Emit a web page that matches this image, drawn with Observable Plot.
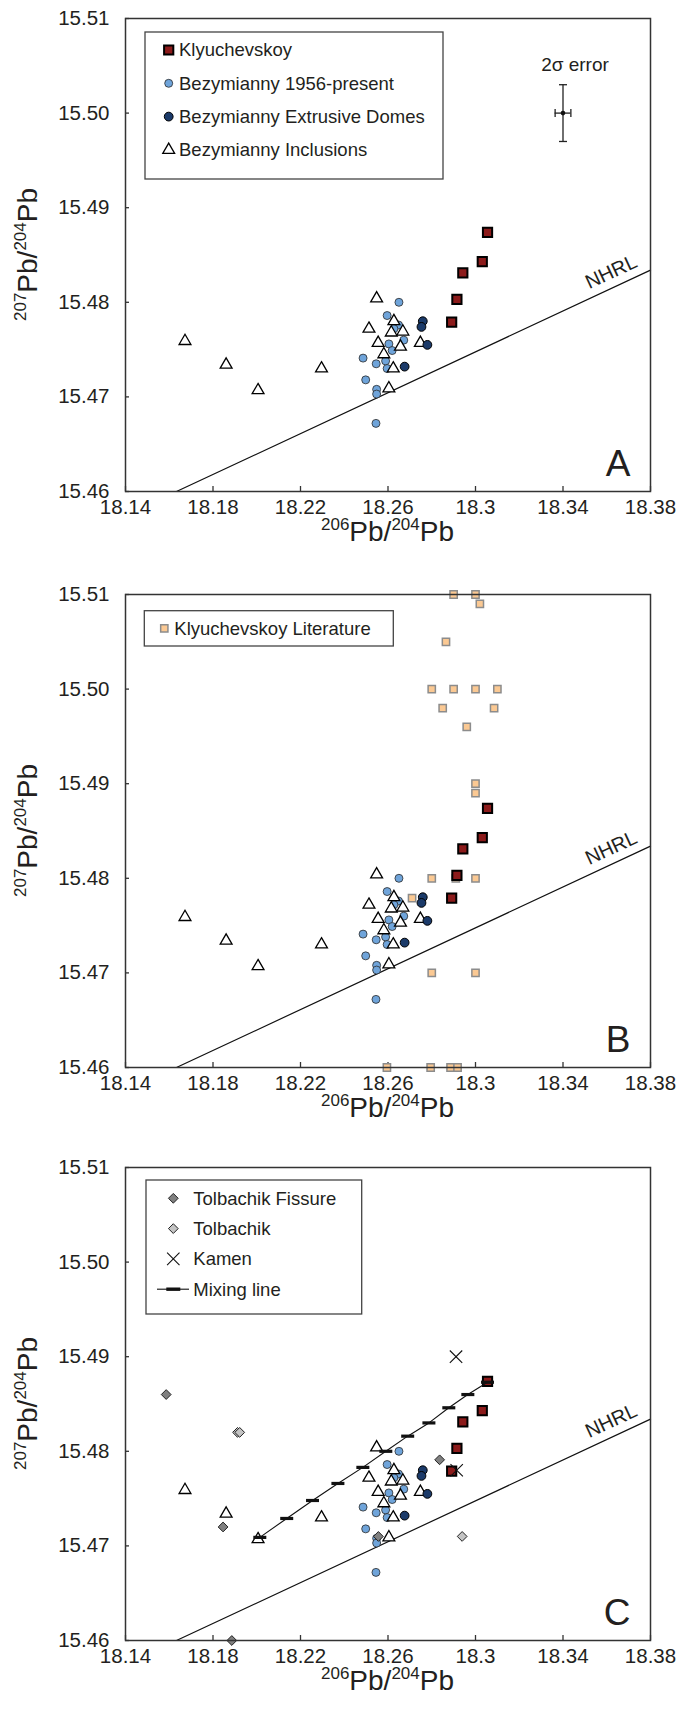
<!DOCTYPE html>
<html>
<head>
<meta charset="utf-8">
<script src="https://cdn.jsdelivr.net/npm/d3@7"></script>
<script src="https://cdn.jsdelivr.net/npm/@observablehq/plot@0.6"></script>
<style>
  body { margin: 0; background: #fff; }
  svg { display: block; }
</style>
</head>
<body>
<div id="chart"></div>
<script>
// ---------------- data ----------------
const xTicks = [18.14, 18.18, 18.22, 18.26, 18.30, 18.34, 18.38];
const xTickLabels = ["18.14", "18.18", "18.22", "18.26", "18.3", "18.34", "18.38"];
const yTicks = [15.46, 15.47, 15.48, 15.49, 15.50, 15.51];
const yTickLabels = ["15.46", "15.47", "15.48", "15.49", "15.50", "15.51"];

// Klyuchevskoy
const klyX = [18.3055, 18.3031, 18.2942, 18.2915, 18.2891];
const klyY = [15.4874, 15.4843, 15.4831, 15.4803, 15.4779];
// Bezymianny 1956-present
const bez56X = [18.2650, 18.2596, 18.2648, 18.2627, 18.2672, 18.2604, 18.2619, 18.2486, 18.2546, 18.2589, 18.2596, 18.2498, 18.2548, 18.2548, 18.2545];
const bez56Y = [15.4800, 15.4786, 15.4776, 15.4772, 15.4760, 15.4756, 15.4749, 15.4741, 15.4735, 15.4738, 15.4730, 15.4718, 15.4708, 15.4703, 15.4672];
// Bezymianny Extrusive Domes
const domeX = [18.2759, 18.2753, 18.2780, 18.2676];
const domeY = [15.4780, 15.4774, 15.4755, 15.4732];
// Bezymianny Inclusions
const incX = [18.1672, 18.1860, 18.2006, 18.2296, 18.2548, 18.2513, 18.2627, 18.2615, 18.2668, 18.2555, 18.2581, 18.2657, 18.2748, 18.2624, 18.2604];
const incY = [15.4759, 15.4734, 15.4707, 15.4730, 15.4804, 15.4772, 15.4780, 15.4768, 15.4769, 15.4757, 15.4745, 15.4753, 15.4757, 15.4730, 15.4709];
// Klyuchevskoy Literature
const litX = [18.290, 18.300, 18.302, 18.2865, 18.280, 18.290, 18.300, 18.310, 18.285, 18.3085, 18.296, 18.300, 18.300, 18.280, 18.291, 18.300, 18.271, 18.280, 18.300, 18.2595, 18.2795, 18.2886, 18.2918];
const litY = [15.510, 15.510, 15.509, 15.505, 15.500, 15.500, 15.500, 15.500, 15.498, 15.498, 15.496, 15.490, 15.489, 15.480, 15.480, 15.480, 15.4779, 15.470, 15.470, 15.460, 15.460, 15.460, 15.460];
// Tolbachik Fissure
const fisX = [18.1586, 18.1846, 18.2556, 18.2836, 18.1886];
const fisY = [15.4860, 15.4720, 15.4710, 15.4791, 15.4600];
// Tolbachik
const tolX = [18.1912, 18.1922, 18.2939];
const tolY = [15.4820, 15.4820, 15.4710];
// Kamen
const kamX = [18.2911, 18.2914];
const kamY = [15.4900, 15.4780];
// Mixing line
const mixX = [18.2014, 18.2137, 18.2255, 18.2371, 18.2485, 18.2590, 18.2690, 18.2787, 18.2878, 18.2965, 18.3055];
const mixY = [15.4709, 15.4729, 15.4748, 15.4766, 15.4783, 15.4800, 15.4816, 15.4830, 15.4846, 15.4860, 15.4873];
// NHRL reference line and label
const nhrlX = [18.1633, 18.38];
const nhrlY = [15.4600, 15.4834];
const nhrlLabelX = [18.362];
const nhrlLabelY = [15.4832];
const nhrlLabelText = ["NHRL"];
// 2 sigma error
const errX = [18.34];
const errY = [15.50];
const errDX = [0.0036];
const errDY = [0.003];
const errLabel = ["2σ error"];
// panel letters
const panelLetters = ["A", "B", "C"];
// legend labels
const legendA = ["Klyuchevskoy", "Bezymianny 1956-present", "Bezymianny Extrusive Domes", "Bezymianny Inclusions"];
const legendB = ["Klyuchevskoy Literature"];
const legendC = ["Tolbachik Fissure", "Tolbachik", "Kamen", "Mixing line"];

// ---------------- helpers ----------------
const rows = (xs, ys) => xs.map((x, i) => ({x, y: ys[i]}));
const kly = rows(klyX, klyY), bez56 = rows(bez56X, bez56Y), dome = rows(domeX, domeY), inc = rows(incX, incY);
const lit = rows(litX, litY), fis = rows(fisX, fisY), tol = rows(tolX, tolY), kam = rows(kamX, kamY), mix = rows(mixX, mixY);
const nhrl = rows(nhrlX, nhrlY);
const nhrlLab = nhrlLabelX.map((x, i) => ({x, y: nhrlLabelY[i], t: nhrlLabelText[i]}));
const err = errX.map((x, i) => ({x, y: errY[i], ex: errDX[i], ey: errDY[i], t: errLabel[i]}));

const FONT = "'Liberation Sans', Arial, Helvetica, sans-serif";
const TXT = "#231f20";
const RED = "#8c1b1b", LIGHT = "#6fa4da", NAVY = "#1b3a69", PEACH = "#fbc993", PEACH_S = "#8c8c8c";
const FIS = "#808080", TOL = "#c4c4c4";
const W = 678, ML = 125, MR = 28, PH = 473, PW = W - ML - MR;

const S = {
  kly: {symbol: "square", r: 5.2, fill: RED, stroke: "#000", strokeWidth: 2},
  bez56: {symbol: "circle", r: 4, fill: LIGHT, stroke: "#2a2a2a", strokeWidth: 0.8},
  dome: {symbol: "circle", r: 4.4, fill: NAVY, stroke: "#000", strokeWidth: 1},
  inc: {symbol: "triangle", r: 4.4, fill: "white", stroke: "#000", strokeWidth: 1.3},
  lit: {symbol: "square", r: 4.1, fill: PEACH, stroke: PEACH_S, strokeWidth: 1.5},
  fis: {symbol: "diamond2", r: 4.4, fill: FIS, stroke: "#222", strokeWidth: 1},
  tol: {symbol: "diamond2", r: 4.4, fill: TOL, stroke: "#222", strokeWidth: 1},
  kam: {symbol: "times", r: 5.7, fill: "none", stroke: "#111", strokeWidth: 1.1}
};
const d3sym = {square: d3.symbolSquare, circle: d3.symbolCircle, triangle: d3.symbolTriangle, diamond2: d3.symbolDiamond2, times: d3.symbolTimes};

const dashSymbol = {draw(ctx) { ctx.rect(-6.5, -1.6, 13, 3.2); }};
const capH = {draw(ctx) { ctx.moveTo(-4, 0); ctx.lineTo(4, 0); }};
const capV = {draw(ctx) { ctx.moveTo(0, -4); ctx.lineTo(0, 4); }};

const dots = (data, s) => Plot.dot(data, {x: "x", y: "y", ...s});

function baseMarks() {
  return [dots(bez56, S.bez56), dots(inc, S.inc), dots(dome, S.dome), dots(kly, S.kly)];
}

function panel({height, marginTop, letter, before = [], after = [], extra = []}) {
  const marginBottom = height - marginTop - PH;
  return Plot.plot({
    width: W, height, marginLeft: ML, marginRight: MR, marginTop, marginBottom,
    style: {fontFamily: FONT, fontSize: "20px", color: TXT, background: "white", overflow: "visible"},
    x: {domain: [18.14, 18.38]},
    y: {domain: [15.46, 15.51]},
    marks: [
      Plot.axisX({ticks: xTicks, tickSize: 0, tickPadding: 8, tickFormat: d => xTickLabels[xTicks.indexOf(d)], fontSize: 20.5, label: null}),
      Plot.axisY({ticks: yTicks, tickSize: 0, tickPadding: 16, tickFormat: d => yTickLabels[yTicks.indexOf(d)], fontSize: 20.5, label: null}),
      Plot.tickX(xTicks, {x: d => d, insetTop: PH - 5, stroke: "#333", strokeWidth: 1.3}),
      Plot.tickY(yTicks, {y: d => d, insetRight: PW - 4, stroke: "#333", strokeWidth: 1.3}),
      Plot.line(nhrl, {x: "x", y: "y", stroke: "#111", strokeWidth: 1.2}),
      Plot.text(nhrlLab, {x: "x", y: "y", text: "t", rotate: -25, fontSize: 20, fill: TXT}),
      ...extra,
      ...before,
      ...baseMarks(),
      ...after,
      Plot.frame({stroke: "#333", strokeWidth: 1.5}),
      Plot.text([letter], {frameAnchor: "bottom-right", text: d => d, dx: -20, dy: -16, fontSize: 37, fill: TXT})
    ]
  });
}

function supText(sel, a, b) {
  const t = sel.append("text").attr("text-anchor", "middle").attr("font-size", 28).attr("fill", TXT).attr("font-family", FONT);
  t.append("tspan").attr("font-size", 17).attr("dy", -11).text(a);
  t.append("tspan").attr("dy", 11).text("Pb/");
  t.append("tspan").attr("font-size", 17).attr("dy", -11).text(b);
  t.append("tspan").attr("dy", 11).text("Pb");
  return t;
}

function addTitles(svg, marginTop) {
  const s = d3.select(svg);
  const cx = ML + PW / 2, bottom = marginTop + PH, cy = marginTop + PH / 2;
  supText(s.append("g").attr("transform", `translate(${cx},${bottom + 50})`), "206", "204");
  supText(s.append("g").attr("transform", `translate(37,${cy}) rotate(-90)`), "207", "204");
}

function addLegend(svg, marginTop, spec) {
  const left = ML + spec.dx, top = marginTop + spec.dy;
  const g = d3.select(svg).append("g").attr("font-family", FONT).attr("font-size", 18.5).attr("fill", TXT).attr("text-anchor", "start");
  g.append("rect").attr("x", left).attr("y", top).attr("width", spec.w).attr("height", spec.h)
    .attr("fill", "white").attr("stroke", "#444").attr("stroke-width", 1.3);
  spec.items.forEach((it, i) => {
    const cy = top + spec.row0 + i * spec.rowH;
    const mx = left + spec.mx;
    if (it.mix) {
      g.append("line").attr("x1", left + spec.lx0).attr("x2", left + spec.lx1).attr("y1", cy).attr("y2", cy)
        .attr("stroke", "#111").attr("stroke-width", 1.1);
      g.append("rect").attr("x", mx - 7).attr("y", cy - 1.7).attr("width", 14).attr("height", 3.4).attr("fill", "#111");
    } else {
      const st = it.style;
      g.append("path").attr("transform", `translate(${mx},${cy})`)
        .attr("d", d3.symbol(d3sym[st.symbol], Math.PI * st.r * st.r)())
        .attr("fill", st.fill).attr("stroke", st.stroke).attr("stroke-width", st.strokeWidth);
    }
    g.append("text").attr("x", left + spec.tx).attr("y", cy).attr("dy", "0.35em").attr("text-anchor", "start").text(it.label);
  });
}

// ---------------- panels ----------------
const root = document.getElementById("chart");

// Panel A
const errMarks = [
  Plot.ruleX(err, {x: "x", y1: d => d.y - d.ey, y2: d => d.y + d.ey, stroke: "#222", strokeWidth: 1.3}),
  Plot.ruleY(err, {y: "y", x1: d => d.x - d.ex, x2: d => d.x + d.ex, stroke: "#222", strokeWidth: 1.3}),
  Plot.dot(err, {x: "x", y: d => d.y - d.ey, symbol: capH, fill: "none", stroke: "#222", strokeWidth: 1.3}),
  Plot.dot(err, {x: "x", y: d => d.y + d.ey, symbol: capH, fill: "none", stroke: "#222", strokeWidth: 1.3}),
  Plot.dot(err, {x: d => d.x - d.ex, y: "y", symbol: capV, fill: "none", stroke: "#222", strokeWidth: 1.3}),
  Plot.dot(err, {x: d => d.x + d.ex, y: "y", symbol: capV, fill: "none", stroke: "#222", strokeWidth: 1.3}),
  Plot.dot(err, {x: "x", y: "y", r: 2.3, fill: "#111"}),
  Plot.text(err, {x: "x", y: "y", text: "t", dx: 12, dy: -48, fontSize: 19, fill: TXT})
];
const A = panel({height: 576, marginTop: 18, letter: panelLetters[0], extra: errMarks});
addTitles(A, 18);
addLegend(A, 18, {dx: 20, dy: 14, w: 298, h: 147, mx: 23.7, tx: 34, row0: 18, rowH: 33.3,
  items: [{label: legendA[0], style: S.kly}, {label: legendA[1], style: S.bez56}, {label: legendA[2], style: S.dome}, {label: legendA[3], style: S.inc}]});
root.appendChild(A);

// Panel B
const B = panel({height: 574, marginTop: 18, letter: panelLetters[1], before: [dots(lit, S.lit)]});
addTitles(B, 18);
addLegend(B, 18, {dx: 19.3, dy: 16.7, w: 249, h: 35.3, mx: 20, tx: 30, row0: 17.6, rowH: 0,
  items: [{label: legendB[0], style: S.lit}]});
root.appendChild(B);

// Panel C
const C = panel({height: 561, marginTop: 17, letter: panelLetters[2], after: [
  dots(fis, S.fis),
  dots(tol, S.tol),
  Plot.line(mix, {x: "x", y: "y", stroke: "#111", strokeWidth: 1.1}),
  Plot.dot(mix, {x: "x", y: "y", symbol: dashSymbol, fill: "#111", stroke: "none"}),
  dots(kam, S.kam)
]});
addTitles(C, 17);
addLegend(C, 17, {dx: 21, dy: 13, w: 215.7, h: 134, mx: 27.3, tx: 47.3, row0: 18.3, rowH: 30.3, lx0: 11, lx1: 43,
  items: [{label: legendC[0], style: S.fis}, {label: legendC[1], style: S.tol}, {label: legendC[2], style: S.kam}, {label: legendC[3], mix: true}]});
root.appendChild(C);
</script>
</body>
</html>
